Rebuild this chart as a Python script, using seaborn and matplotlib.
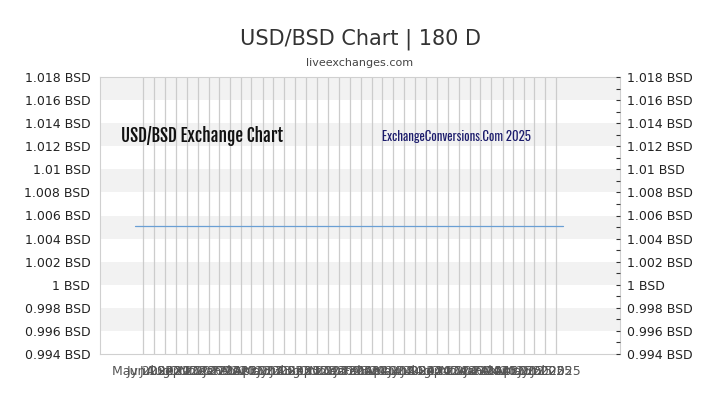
import numpy as np
import pandas as pd
import matplotlib
matplotlib.use("Agg")
import matplotlib.pyplot as plt
import matplotlib.ticker as mticker
import seaborn as sns

# --- data ---
tick_months = pd.date_range("2022-05-01", "2025-07-01", freq="MS")
tick_labels = [d.strftime("%b %Y") for d in tick_months]

rate_dates = pd.date_range("2022-04-09", "2025-07-21", freq="7D")
usd_bsd = [1.0051] * len(rate_dates)

y_ticks = [0.994, 0.996, 0.998, 1.0, 1.002, 1.004, 1.006, 1.008, 1.010, 1.012, 1.014, 1.016, 1.018]
y_labels = ["0.994 BSD", "0.996 BSD", "0.998 BSD", "1 BSD", "1.002 BSD", "1.004 BSD",
            "1.006 BSD", "1.008 BSD", "1.01 BSD", "1.012 BSD", "1.014 BSD", "1.016 BSD", "1.018 BSD"]

df = pd.DataFrame({"date": rate_dates, "rate": usd_bsd})

W, H = 720, 405
heavy_narrow = ["Fjalla One", "Oswald", "Archivo Narrow", "DejaVu Sans"]
light_narrow = ["Oswald", "Archivo Narrow", "DejaVu Sans"]

sns.set_style("white")
plt.rcParams["font.family"] = ["DejaVu Sans"]

fig = plt.figure(figsize=(W / 100, H / 100), dpi=100)
ax = fig.add_axes([100 / W, 1 - 354 / H, 520 / W, 277 / H])

# alternating bands
for lo, hi in zip(y_ticks[:-1], y_ticks[1:]):
    if round((hi - 0.994) / 0.002) % 2 == 0:
        ax.axhspan(lo, hi, color="#f2f2f2", lw=0, zorder=0)

for d in tick_months:
    ax.axvline(d, color="#cccccc", lw=0.9, zorder=1)

sns.lineplot(data=df, x="date", y="rate", ax=ax, color="#6a9fd4", lw=0.9, zorder=3)

ax.set_xlim(pd.Timestamp("2022-01-01"), pd.Timestamp("2025-12-27"))
ax.set_ylim(y_ticks[0], y_ticks[-1])
ax.set_xlabel("")
ax.set_ylabel("")

ax.set_xticks(tick_months)
ax.set_xticklabels(tick_labels)
ax.tick_params(axis="x", length=0, pad=8, labelsize=9, labelcolor="#555555")
ax.set_yticks(y_ticks)
ax.set_yticklabels(y_labels)
ax.tick_params(axis="y", length=0, pad=7, labelsize=9, labelcolor="#222222")

for s in ax.spines.values():
    s.set_color("#d0d0d0")
    s.set_linewidth(0.8)

ax2 = ax.twinx()
ax2.set_ylim(y_ticks[0], y_ticks[-1])
ax2.set_yticks(y_ticks)
ax2.set_yticklabels(y_labels)
ax2.yaxis.set_minor_locator(mticker.MultipleLocator(0.001))
ax2.tick_params(axis="y", which="major", direction="in", length=3, width=0.8,
                color="#333333", pad=5, labelsize=9, labelcolor="#222222")
ax2.tick_params(axis="y", which="minor", direction="in", length=3, width=0.8, color="#333333")
for s in ax2.spines.values():
    s.set_visible(False)

fig.text(121 / W, 1 - 141.5 / H, "USD/BSD Exchange Chart", family=heavy_narrow,
         fontsize=12.4, color="#111111", va="baseline", ha="left")
fig.text(382 / W, 1 - 140.5 / H, "ExchangeConversions.Com 2025", family=light_narrow,
         fontsize=9.2, color="#1c1c6c", va="baseline", ha="left")

fig.text(0.5, 1 - 39 / H, "USD/BSD Chart | 180 D", ha="center", va="center",
         fontsize=15, color="#333333")
fig.text(0.5, 1 - 63 / H, "liveexchanges.com", ha="center", va="center",
         fontsize=8, color="#444444")

fig.savefig("out.png", dpi=100)
